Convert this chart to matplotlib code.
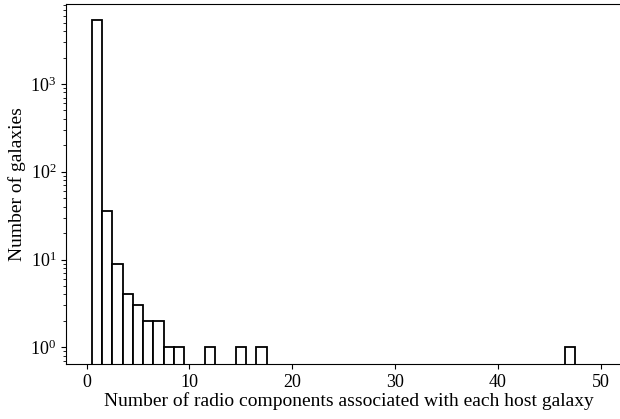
import numpy as np
import matplotlib
matplotlib.use("Agg")
import matplotlib.pyplot as plt

plt.rcParams["font.family"] = ["Liberation Serif", "DejaVu Serif"]
plt.rcParams["mathtext.fontset"] = "custom"
plt.rcParams["mathtext.rm"] = "Liberation Serif"
plt.rcParams["mathtext.it"] = "Liberation Serif:italic"

# number of radio components per host and how many galaxies have that many
n_components = [1, 2, 3, 4, 5, 6, 7, 8, 9, 12, 15, 17, 47]
n_galaxies = [5300, 36, 9, 4, 3, 2, 2, 1, 1, 1, 1, 1, 1]

fig = plt.figure(figsize=(6.2, 4.19), dpi=100)
ax = fig.add_axes([66 / 620, 1 - 364 / 419, (631.6 - 66) / 620, (364 - 4) / 419])

ax.bar(n_components, n_galaxies, width=1.0, facecolor="white",
       edgecolor="black", linewidth=1.3, log=True)

ax.set_yscale("log")
ax.set_ylim(0.645, 8150)
ax.set_xlim(-2, 53)
ax.set_xticks([0, 10, 20, 30, 40, 50])

ax.tick_params(labelsize=13, direction="out")
ax.set_xlabel("Number of radio components associated with each host galaxy",
              fontsize=14, labelpad=1)
ax.set_ylabel("Number of galaxies", fontsize=14, labelpad=3)

fig.savefig("out.png", dpi=100)
